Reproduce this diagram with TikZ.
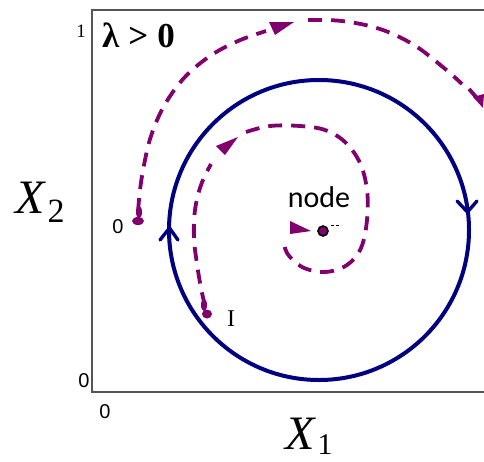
\documentclass[tikz,border=0pt]{standalone}
\usepackage{fontspec}
\setmainfont{Liberation Serif}
\newfontfamily\lsans{Liberation Sans}
\newfontfamily\carl{Carlito}
\usetikzlibrary{arrows.meta}
\definecolor{cyclecol}{RGB}{0,0,128}
\definecolor{trajcol}{RGB}{128,0,110}
\definecolor{framecol}{RGB}{85,85,85}
\tikzset{
  frame/.style={draw=framecol,line width=2pt},
  cycle/.style={draw=cyclecol,line width=4pt},
  traj/.style={draw=trajcol,line width=3.8pt,dash pattern=on 14pt off 9pt},
  trajtip/.style={fill=trajcol,draw=none},
  cyclebarb/.style={draw=cyclecol,line width=3.4pt,line cap=round,line join=round},
  ticklabel/.style={inner sep=0pt,font=\lsans\fontsize{20}{20}\selectfont},
}
\begin{document}
\begin{tikzpicture}[x=1pt,y=-1pt]
\useasboundingbox (0,0) rectangle (484,461);
% frame
\coordinate (tl) at (92,10);
\coordinate (bl) at (92,392);
\coordinate (tr) at (484,10);
\coordinate (br) at (484,392);
\draw[frame] (tr) -- (tl) -- (bl) -- (br);
% tick labels
\node[inner sep=0pt,font=\fontsize{19}{19}\selectfont] (one) at (81,31) {1};
\node[ticklabel] (zeroy) at (84,381) {0};
\node[ticklabel] (zerox) at (105,412) {0};
% axis labels
\node[inner sep=0pt,anchor=base west] (x2) at (15,213) {\fontsize{48}{48}\selectfont\itshape X\hspace{3pt}\raisebox{-9pt}{\fontsize{34}{34}\selectfont\upshape 2}};
\node[inner sep=0pt,anchor=base west] (x1) at (285,449) {\fontsize{48}{48}\selectfont\itshape X\hspace{3pt}\raisebox{-5pt}{\fontsize{30}{30}\selectfont\upshape 1}};
% lambda label
\node[inner sep=0pt,anchor=base west] (lam) at (102,47) {\fontsize{35}{35}\selectfont\bfseries λ\hspace{9pt}>\hspace{9pt}0};
% limit cycle
\node[circle,cycle,minimum size=300pt,inner sep=0pt] (lc) at (319,230) {};
\coordinate (lcl) at (169.5,228);
\coordinate (lcr) at (467.5,212);
\draw[cyclebarb] (160,240) -- (lcl) -- (178,240);
\draw[cyclebarb] (457,201) -- (lcr) -- (477,201);
% outer trajectory from O
\draw[traj] plot[smooth,tension=0.6] coordinates {(138,212) (140,190) (144,165) (151,136) (164,106) (184,78) (210,56) (238,41) (266,31)};
\fill[trajtip] (269,22) -- (294,22) -- (275,35) -- cycle;
\draw[traj] plot[smooth,tension=0.6] coordinates {(308,20) (342,21) (380,29) (414,45) (444,68) (462,84)};
\draw[trajcol,line width=3.8pt] (469,89) -- (477,98);
\fill[trajtip] (473,97) -- (484,94) -- (483,108) -- cycle;
% start blob O
\fill[trajcol] (139,212) ellipse (3pt and 6pt);
\fill[trajcol] (138,221) ellipse (6pt and 4pt);
\node[ticklabel] (o) at (118,227) {0};
% inner trajectory from I
\draw[traj] plot[smooth,tension=0.6] coordinates {(205,306) (201,288) (197,264) (194,238) (195,210) (201,185) (211,164)};
\fill[trajtip] (216,146) -- (238,137) -- (225,155) -- cycle;
\draw[traj] plot[smooth,tension=0.6] coordinates {(246,132) (270,126) (300,126) (325,130) (345,142) (360,163) (367,190) (367,220) (361,248) (347,265) (325,272) (302,267) (287,253) (284,240)};
\fill[trajtip] (290,221) -- (290,234) -- (311,231) -- cycle;
% start blob I
\fill[trajcol] (204,305) ellipse (3pt and 6pt);
\fill[trajcol] (207,314) ellipse (5pt and 4.5pt);
\node[inner sep=0pt,font=\fontsize{24}{24}\selectfont] (i) at (231,319) {I};
% node
\node[circle,draw=black,fill=trajcol,line width=1.6pt,minimum size=10pt,inner sep=0pt] (nd) at (323,231) {};
\draw[black,line width=1pt,dash pattern=on 3pt off 2pt] (331,225) -- (341,225);
\node[inner sep=0pt,font=\carl\fontsize{30}{30}\selectfont] (ndl) at (319,197) {node};
\end{tikzpicture}
\end{document}
